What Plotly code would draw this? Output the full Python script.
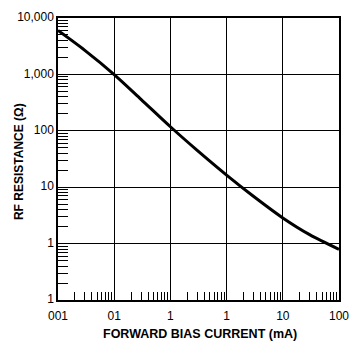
import plotly.graph_objects as go

# Data
current_ma = [0.001, 0.003, 0.01, 0.03, 0.1, 0.3, 1, 3, 10, 30, 100]
rf_resistance = [6000, 2670, 995, 362, 118, 45, 16.4, 6.9, 2.85, 1.44, 0.79]

x_tickvals = [0.001, 0.01, 0.1, 1, 10, 100]
x_ticktext = ["001", "01", "1", "1", "10", "100"]
y_tickvals = [0.1, 1, 10, 100, 1000, 10000]
y_ticktext = ["1", "1", "10", "100", "1,000", "10,000"]

x_title = "FORWARD BIAS CURRENT (mA)"
y_title = "RF RESISTANCE (Ω)"

x_minor = [d * m for d in x_tickvals[:-1] for m in range(2, 10)]
y_minor = [d * m for d in y_tickvals[:-1] for m in range(2, 10)]

FAM = "Liberation Sans, Arial, sans-serif"

fig = go.Figure()
fig.add_trace(go.Scatter(
    x=current_ma, y=rf_resistance, mode="lines",
    line=dict(color="black", width=3, shape="spline", smoothing=0.8),
    showlegend=False, hoverinfo="skip",
))

axis_common = dict(
    type="log", showline=True, linecolor="black", linewidth=1.5, mirror=True,
    showgrid=True, gridcolor="black", gridwidth=1, zeroline=False,
    tickmode="array", ticks="",
    tickfont=dict(family=FAM, size=12, color="black"),
    tickprefix="<b>", ticksuffix="</b>",
    ticklabeloverflow="allow",
)

fig.update_xaxes(
    **axis_common,
    range=[-3, 2],
    tickvals=x_tickvals, ticktext=x_ticktext,
    ticklabelstandoff=4,
    minor=dict(tickvals=x_minor, ticks="inside", ticklen=8, tickcolor="black",
               tickwidth=1, showgrid=False),
)
fig.update_yaxes(
    **axis_common,
    range=[-1, 4],
    tickvals=y_tickvals, ticktext=y_ticktext,
    ticklabelshift=-1,
    minor=dict(tickvals=y_minor, ticks="inside", ticklen=10, tickcolor="black",
               tickwidth=1, showgrid=False),
)

fig.update_layout(
    width=359, height=351,
    margin=dict(l=58, r=11, t=10, b=51),
    paper_bgcolor="white", plot_bgcolor="white",
    font=dict(family=FAM, size=12, color="black"),
    annotations=[
        dict(text="<b>" + x_title + "</b>", xref="paper", yref="paper",
             x=0.507, y=-0.121, xanchor="center", yanchor="middle",
             showarrow=False, font=dict(family=FAM, size=12.5, color="black")),
        dict(text="<b>" + y_title + "</b>", xref="paper", yref="paper",
             x=-0.138, y=0.49, xanchor="center", yanchor="middle", textangle=-90,
             showarrow=False, font=dict(family=FAM, size=12, color="black")),
    ],
)

fig.write_html("out.html")
